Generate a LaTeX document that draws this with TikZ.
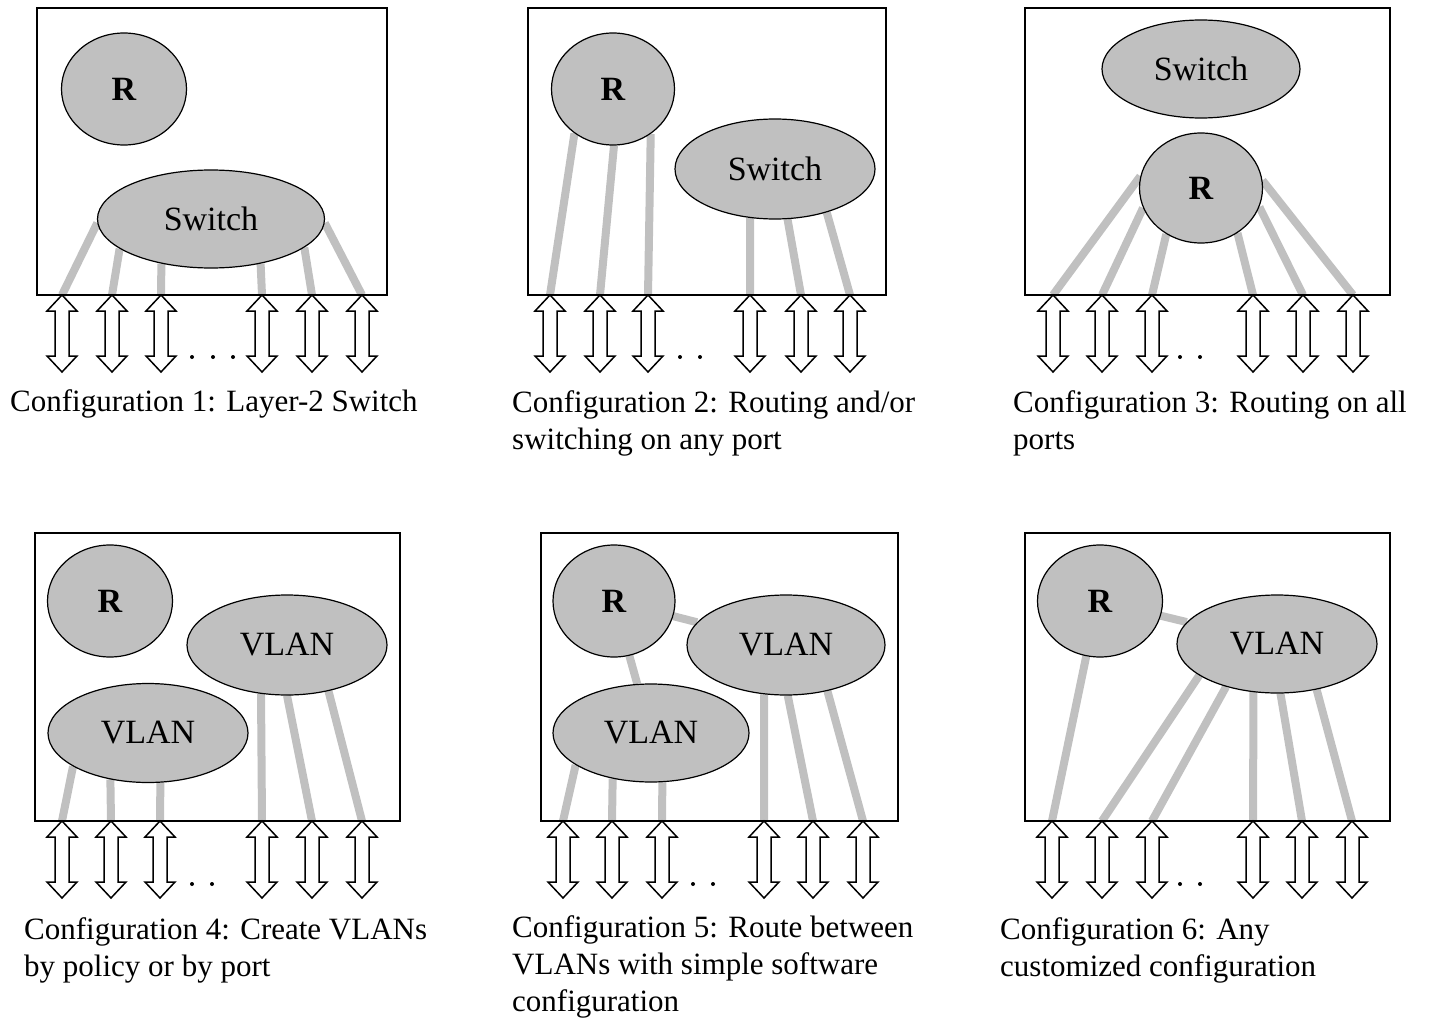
\documentclass[tikz,border=0pt]{standalone}
\usepackage{fontspec}
\setmainfont{Liberation Serif}
\usetikzlibrary{shapes.geometric,backgrounds}
\definecolor{blobgray}{RGB}{192,192,192}
\tikzset{
    blob/.style 2 args={ellipse, draw, line width=1.2pt, fill=blobgray, inner sep=0pt,
        minimum width=#1pt, minimum height=#2pt, font=\fontsize{34}{40}\selectfont},
    wire/.style={blobgray, line width=8pt},
    frame/.style={line width=2pt},
    caption/.style={anchor=base west, align=left, inner sep=0pt, font=\fontsize{31}{37}\selectfont},
    port/.pic={
        \filldraw[fill=white, line width=1.5pt] (0,0) -- (15,16) -- (7,16) -- (7,61) -- (15,61)
            -- (0,77) -- (-15,61) -- (-7,61) -- (-7,16) -- (-15,16) -- cycle;
    }
}
\begin{document}
\begin{tikzpicture}[x=1pt, y=-1pt]
\useasboundingbox (0,0) rectangle (1429,1019);

% configuration 1
\draw[frame] (37,8) rectangle (387,295);
\node[blob={125}{112}] (r1) at (124,89) {\textbf{R}};
\node[blob={227}{98}] (sw1) at (211,219) {Switch};
\foreach \x [count=\i] in {62,112,161,262,312,362} {
    \coordinate (a\i) at (\x,295);
};
\begin{scope}[on background layer]
    \foreach \i/\a in {1/182,2/198,3/222,4/318,5/343,6/358} {
        \draw[wire] (a\i) -- (sw1.\a);
    };
\end{scope}
\foreach \i in {1,...,6} {
    \pic at (a\i) {port};
};
\foreach \x in {192,213,233} {
    \fill (\x,357) circle (2pt);
};
% base of a caption = baseline of its last line
\node[caption] (cap1) at (10,411) {Configuration 1: Layer-2 Switch};

% configuration 2
\draw[frame] (528,8) rectangle (886,295);
\node[blob={123}{112}] (r2) at (613,89) {\textbf{R}};
\node[blob={200}{100}] (sw2) at (775,169) {Switch};
\foreach \x [count=\i] in {550,600,648,750,801,850} {
    \coordinate (b\i) at (\x,295);
};
\begin{scope}[on background layer]
    \foreach \i/\a in {1/229,2/271,3/310} {
        \draw[wire] (b\i) -- (r2.\a);
    };
    \foreach \i/\a in {4/243,5/284,6/320} {
        \draw[wire] (b\i) -- (sw2.\a);
    };
\end{scope}
\foreach \i in {1,...,6} {
    \pic at (b\i) {port};
};
\foreach \x in {680,700} {
    \fill (\x,357) circle (2pt);
};
\node[caption] (cap2) at (512,449) {Configuration 2: Routing and/or\\switching on any port};

% configuration 3
\draw[frame] (1025,8) rectangle (1390,295);
\node[blob={198}{98}] (sw3) at (1201,69) {Switch};
\node[blob={123}{110}] (r3) at (1201,188) {\textbf{R}};
\foreach \x [count=\i] in {1053,1102,1152,1253,1303,1353} {
    \coordinate (c\i) at (\x,295);
};
\begin{scope}[on background layer]
    \foreach \i/\a in {1/169,2/199,3/233,4/309,5/342,6/7} {
        \draw[wire] (c\i) -- (r3.\a);
    };
\end{scope}
\foreach \i in {1,...,6} {
    \pic at (c\i) {port};
};
\foreach \x in {1180,1200} {
    \fill (\x,357) circle (2pt);
};
\node[caption] (cap3) at (1013,449) {Configuration 3: Routing on all\\ports};

% configuration 4
\draw[frame] (35,533) rectangle (400,821);
\node[blob={125}{112}] (r4) at (110,601) {\textbf{R}};
\node[blob={200}{100}] (vt4) at (287,645) {VLAN};
\node[blob={200}{99}] (vb4) at (148,733) {VLAN};
\foreach \x [count=\i] in {62,111,160,262,312,362} {
    \coordinate (d\i) at (\x,821);
};
\begin{scope}[on background layer]
    \foreach \i/\a in {1/204,2/231,3/284} {
        \draw[wire] (d\i) -- (vb4.\a);
    };
    \foreach \i/\a in {4/242,5/270,6/312} {
        \draw[wire] (d\i) -- (vt4.\a);
    };
\end{scope}
\foreach \i in {1,...,6} {
    \pic at (d\i) {port};
};
\foreach \x in {192,212} {
    \fill (\x,884) circle (2pt);
};
\node[caption] (cap4) at (24,976) {Configuration 4: Create VLANs\\by policy or by port};

% configuration 5
\draw[frame] (541,533) rectangle (898,821);
\node[blob={122}{112}] (r5) at (614,601) {\textbf{R}};
\node[blob={198}{100}] (vt5) at (786,645) {VLAN};
\node[blob={196}{98}] (vb5) at (651,733) {VLAN};
\foreach \x [count=\i] in {563,612,662,764,813,863} {
    \coordinate (e\i) at (\x,821);
};
\begin{scope}[on background layer]
    \draw[wire] (r5) -- (vt5);
    \draw[wire] (r5) -- (vb5);
    \foreach \i/\a in {1/203,2/230,3/283} {
        \draw[wire] (e\i) -- (vb5.\a);
    };
    \foreach \i/\a in {4/246,5/272,6/312} {
        \draw[wire] (e\i) -- (vt5.\a);
    };
\end{scope}
\foreach \i in {1,...,6} {
    \pic at (e\i) {port};
};
\foreach \x in {693,713} {
    \fill (\x,884) circle (2pt);
};
\node[caption] (cap5) at (512,1011) {Configuration 5: Route between\\VLANs with simple software\\configuration};

% configuration 6
\draw[frame] (1025,533) rectangle (1390,821);
\node[blob={125}{112}] (r6) at (1100,601) {\textbf{R}};
\node[blob={200}{98}] (vl6) at (1277,644) {VLAN};
\foreach \x [count=\i] in {1052,1102,1152,1253,1302,1352} {
    \coordinate (f\i) at (\x,821);
};
\begin{scope}[on background layer]
    \draw[wire] (r6) -- (vl6);
    \draw[wire] (f1) -- (r6.256);
    \foreach \i/\a in {2/202,3/220,4/244,5/274,6/311} {
        \draw[wire] (f\i) -- (vl6.\a);
    };
\end{scope}
\foreach \i in {1,...,6} {
    \pic at (f\i) {port};
};
\foreach \x in {1180,1200} {
    \fill (\x,884) circle (2pt);
};
\node[caption] (cap6) at (1000,976) {Configuration 6: Any\\customized configuration};
\end{tikzpicture}
\end{document}
